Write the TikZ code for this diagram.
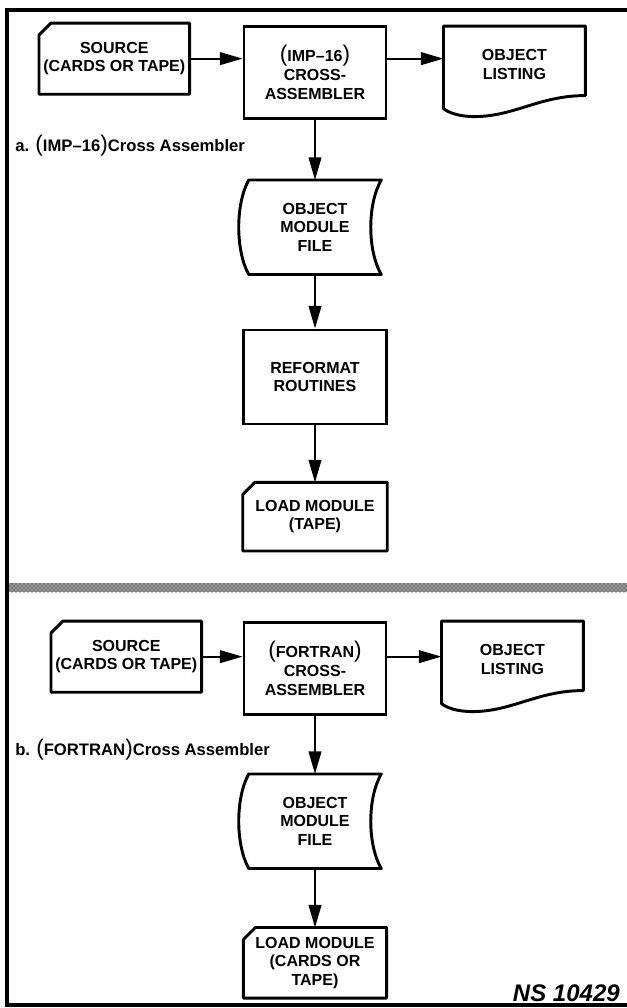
\documentclass[tikz,border=0pt]{standalone}
\usepackage{fontspec}
\setmainfont{Liberation Sans}
\usepackage{tikz}
\usetikzlibrary{arrows.meta,positioning,patterns}
\newcommand{\bparl}{{\fontsize{17}{14}\selectfont\mdseries(}}
\newcommand{\bparr}{{\fontsize{17}{14}\selectfont\mdseries)}}
\tikzset{
    boxtext/.style={
                align=center,
                inner sep=0pt,
                font=\bfseries\fontsize{12}{14}\selectfont
            },
    procbox/.style={
                boxtext,
                draw=black,
                line width=2.2pt,
                minimum width=106.5pt,
                minimum height=69pt
            },
    cardbox/.style={
                boxtext,
                minimum width=112.5pt,
                minimum height=53pt
            },
    listbox/.style={
                boxtext,
                minimum width=106pt,
                minimum height=57pt
            },
    filebox/.style={
                boxtext,
                minimum width=99pt,
                minimum height=70.5pt
            },
    outline/.style={line width=2.2pt, line join=round},
    flow/.style={line width=1.5pt, -{Triangle[length=17pt,width=9.5pt]}},
    caption/.style={anchor=west, inner sep=0pt, font=\bfseries\fontsize{12.5}{15}\selectfont},
    frame/.style={line width=2.3pt},
}
\begin{document}
\begin{tikzpicture}[x=0.75pt, y=-0.75pt]
  \useasboundingbox (0,0) rectangle (627,1008);
  % frame and separator
  \draw[frame] (627,10) -- (7,10) -- (7,1005) -- (627,1005);
  \fill[black!40] (9,583) rectangle (627,592);
  \fill[pattern=crosshatch dots] (9,583) rectangle (627,592);
  % a. IMP-16
  \node[procbox] (asm1) at (315,72.5) {\bparl IMP--16\bparr\\CROSS-\\ASSEMBLER};
  \node[cardbox, left=39.75pt of asm1.north west, anchor=north east, yshift=1.5pt] (src1) {SOURCE\\(CARDS OR TAPE)};
  \node[listbox, right=42pt of asm1.north east, anchor=north west, yshift=-0.75pt] (list1) {OBJECT\\LISTING};
  \node[filebox, below=45pt of asm1] (file1) {OBJECT\\MODULE\\FILE};
  \node[procbox, below=40.5pt of file1, minimum width=107pt, minimum height=70.5pt] (ref1) {REFORMAT\\ROUTINES};
  \node[cardbox, below=42.75pt of ref1, minimum width=108pt, minimum height=51pt] (load1) {LOAD MODULE\\(TAPE)};
  \node[caption] (capa) at (15,146) {a. \bparl IMP--16\bparr Cross Assembler};
  % b. FORTRAN
  \node[procbox] (asm2) at (315,668.5) {\bparl FORTRAN\bparr\\CROSS-\\ASSEMBLER};
  \node[cardbox, left=30.75pt of asm2.north west, anchor=north east] (src2) {SOURCE\\(CARDS OR TAPE)};
  \node[listbox, right=40.5pt of asm2.north east, anchor=north west] (list2) {OBJECT\\LISTING};
  \node[filebox, below=43.5pt of asm2] (file2) {OBJECT\\MODULE\\FILE};
  \node[cardbox, below=44.25pt of file2, minimum width=107pt, minimum height=52.5pt] (load2) {LOAD MODULE\\(CARDS OR\\TAPE)};
  \node[caption] (capb) at (15,750) {b. \bparl FORTRAN\bparr Cross Assembler};
  \node[anchor=base east, inner sep=0pt, font=\bfseries\itshape\fontsize{18}{20}\selectfont] (fig) at (620,1001) {NS 10429};
  % outlines
  \foreach \n in {src1,load1,src2,load2}
    \draw[outline] ([xshift=9pt]\n.north west) -- (\n.north east) -- (\n.south east)
      -- (\n.south west) -- ([yshift=-9pt]\n.north west) -- cycle;
  \foreach \n in {list1,list2}
    \draw[outline] (\n.north west) -- (\n.north east) -- ([yshift=5.25pt]\n.south east)
      .. controls ([shift={(-34.5pt,5.25pt)}]\n.south east) and ([shift={(-53.25pt,-10.5pt)}]\n.south east) .. ([shift={(23.25pt,-10.5pt)}]\n.south west)
      .. controls ([shift={(11.25pt,-10.5pt)}]\n.south west) and ([shift={(3.75pt,-7.5pt)}]\n.south west) .. ([yshift=-4.5pt]\n.south west) -- cycle;
  \foreach \n in {file1,file2}
    \draw[outline] (\n.north west) -- (\n.north east)
      .. controls ([shift={(-10.5pt,-18pt)}]\n.north east) and ([shift={(-10.5pt,18pt)}]\n.south east) .. (\n.south east)
      -- (\n.south west)
      .. controls ([shift={(-10pt,18pt)}]\n.south west) and ([shift={(-10pt,-18pt)}]\n.north west) .. (\n.north west) -- cycle;
  % connectors
  \draw[flow] (src1.east) -- (asm1.west |- src1.east);
  \draw[flow] (asm1.east |- src1.east) -- (list1.west |- src1.east);
  \draw[flow] (asm1) -- (file1);
  \draw[flow] (file1) -- (ref1);
  \draw[flow] (ref1) -- (load1);
  \draw[flow] (src2.east) -- (asm2.west |- src2.east);
  \draw[flow] (asm2.east |- src2.east) -- (list2.west |- src2.east);
  \draw[flow] (asm2) -- (file2);
  \draw[flow] (file2) -- (load2);
\end{tikzpicture}
\end{document}
